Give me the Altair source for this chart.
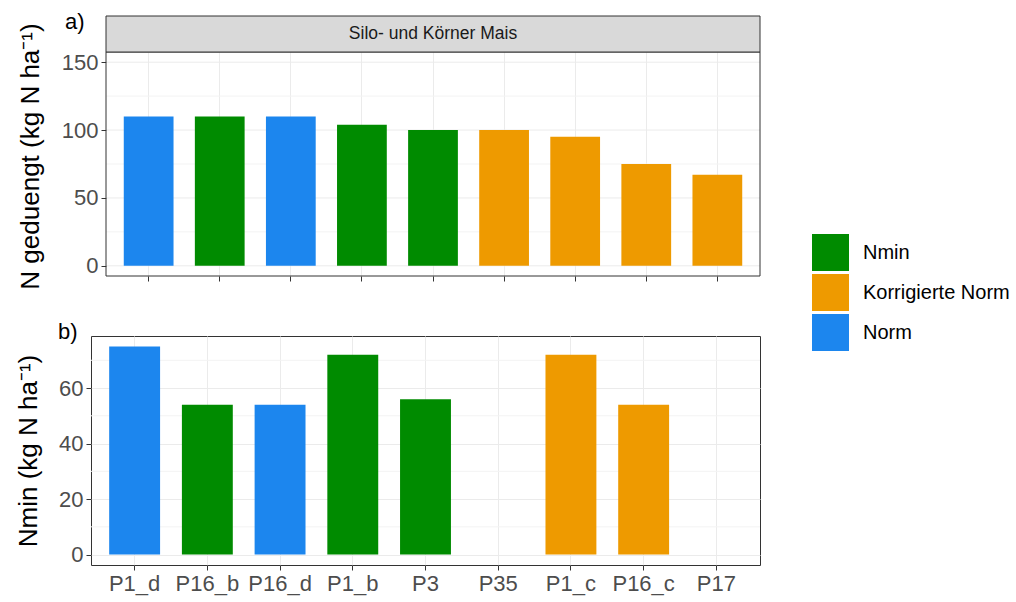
import altair as alt
import pandas as pd

FONT = "Liberation Sans"

# Sites in plotting order with the fertilisation method used at each site
sites = ["P1_d", "P16_b", "P16_d", "P1_b", "P3", "P35", "P1_c", "P16_c", "P17"]
methods = ["Norm", "Nmin", "Norm", "Nmin", "Nmin",
           "Korrigierte Norm", "Korrigierte Norm", "Korrigierte Norm", "Korrigierte Norm"]
n_fertilised = [110, 110, 110, 104, 100, 100, 95, 75, 67]
n_min = [75, 54, 54, 72, 56, None, 72, 54, None]

method_order = ["Nmin", "Korrigierte Norm", "Norm"]
method_colors = ["#008B00", "#EE9A00", "#1C86EE"]

crop_label = ["Silo- und Körner Mais"]
panel_a = ["a)"]
panel_b = ["b)"]

y_top_breaks = [0, 50, 100, 150]
y_top_minor = [25, 75, 125]
y_top_domain = [-7.5, 157.5]
y_bot_breaks = [0, 20, 40, 60]
y_bot_minor = [10, 30, 50, 70]
y_bot_domain = [-3.75, 78.75]

df = pd.DataFrame({"Standort": sites, "Methode": methods,
                   "N_geduengt": n_fertilised, "Nmin": n_min})

W = 669          # group width of both panels
INSET = 15       # panel a starts this far right of panel b (wider tick labels)
H_TOP, H_BOT = 224, 229
BORDER = "#333333"
GRID = "#EBEBEB"
GRID_MINOR = "#F3F3F3"


def x_enc(show_labels, x_range=None):
    scale_kw = dict(domain=sites, paddingInner=0.3, paddingOuter=0.25)
    if x_range is not None:
        scale_kw["range"] = x_range
    return alt.X(
        "Standort:N",
        sort=sites,
        scale=alt.Scale(**scale_kw),
        axis=alt.Axis(title=None, labels=show_labels, bandPosition=0.5,
                      grid=True, gridColor=GRID, domain=False,
                      tickColor=BORDER, tickSize=5, labelFontSize=22,
                      labelColor="#4D4D4D", labelPadding=3, labelAngle=0,
                      labelFont=FONT),
    )


color_enc = alt.Color(
    "Methode:N",
    scale=alt.Scale(domain=method_order, range=method_colors),
    legend=alt.Legend(title=None, orient="none", legendX=721, legendY=182,
                      symbolType="square", symbolSize=1369, symbolStrokeWidth=0,
                      labelFontSize=20, labelFont=FONT, labelColor="black",
                      labelOffset=14, rowPadding=3, padding=0),
)


def y_axis(title, breaks, min_extent, grid, offset=0, title_y=None):
    kw = dict(title=title, values=breaks, grid=grid, gridColor=GRID,
              domain=False, tickColor=BORDER, tickSize=5,
              labelFontSize=22, labelColor="#4D4D4D", labelPadding=3,
              labelFont=FONT, titleFont=FONT, titleFontSize=26,
              titleFontWeight="normal", titleColor="black",
              titlePadding=10, minExtent=min_extent, maxExtent=min_extent,
              offset=offset)
    if title_y is not None:
        kw["titleY"] = title_y
    return alt.Axis(**kw)


def grid_rules(values, yscale, axis, color, x0, x1):
    return alt.Chart(pd.DataFrame({"v": values})).mark_rule(
        color=color, strokeWidth=1
    ).encode(y=alt.Y("v:Q", scale=yscale, axis=axis),
             x=alt.value(x0), x2=alt.value(x1))


# ---- Panel a: applied nitrogen, crop strip above it ----
yscale_a = alt.Scale(domain=y_top_domain, nice=False, zero=False)
axis_a = y_axis("N geduengt (kg N ha⁻¹)", y_top_breaks, 53, grid=False,
                offset=-INSET, title_y=104)

major_a = grid_rules(y_top_breaks, yscale_a, axis_a, GRID, INSET, W)
minor_a = grid_rules(y_top_minor, yscale_a, axis_a, GRID_MINOR, INSET, W)
bars_a = alt.Chart(df).mark_bar().encode(
    x=x_enc(False, [INSET, W]),
    y=alt.Y("N_geduengt:Q", scale=yscale_a, axis=axis_a),
    color=color_enc,
)
strip_df = pd.DataFrame({"Kultur": crop_label})
border_a = alt.Chart(strip_df).mark_rect(
    fillOpacity=0, stroke=BORDER, strokeWidth=1
).encode(x=alt.value(INSET), x2=alt.value(W), y=alt.value(0), y2=alt.value(H_TOP))
strip_rect = alt.Chart(strip_df).mark_rect(
    fill="#D9D9D9", stroke=BORDER, strokeWidth=1
).encode(x=alt.value(INSET), x2=alt.value(W), y=alt.value(-36), y2=alt.value(0))
strip_text = alt.Chart(strip_df).mark_text(
    font=FONT, fontSize=17.5, color="#1A1A1A"
).encode(x=alt.value((INSET + W) / 2), y=alt.value(-18), text="Kultur:N")
label_a = alt.Chart(pd.DataFrame({"lab": panel_a})).mark_text(
    font=FONT, fontSize=22, color="black", align="left", baseline="alphabetic"
).encode(x=alt.value(INSET - 41), y=alt.value(-23), text="lab:N")

top = alt.layer(
    major_a, minor_a, bars_a, border_a, strip_rect, strip_text, label_a
).properties(width=W, height=H_TOP,
             view=alt.ViewBackground(stroke="transparent"))

# ---- Panel b: mineral nitrogen in the soil ----
yscale_b = alt.Scale(domain=y_bot_domain, nice=False, zero=False)
axis_b = y_axis("Nmin (kg N ha⁻¹)", y_bot_breaks, 40, grid=True)

minor_b = grid_rules(y_bot_minor, yscale_b, axis_b, GRID_MINOR, 0, W)
bars_b = alt.Chart(df).mark_bar().encode(
    x=x_enc(True),
    y=alt.Y("Nmin:Q", scale=yscale_b, axis=axis_b),
    color=color_enc,
)
label_b = alt.Chart(pd.DataFrame({"lab": panel_b})).mark_text(
    font=FONT, fontSize=22, color="black", align="left", baseline="alphabetic"
).encode(x=alt.value(-33), y=alt.value(3), text="lab:N")

bottom = alt.layer(minor_b, bars_b, label_b).properties(
    width=W, height=H_BOT,
    view=alt.ViewBackground(stroke=BORDER, strokeWidth=1))

chart = alt.vconcat(top, bottom, spacing=30).properties(
    padding={"left": 14, "top": 10, "right": 5, "bottom": 5},
    background="white",
)

chart.save("out.html", embed_options={"renderer": "svg", "actions": False})
